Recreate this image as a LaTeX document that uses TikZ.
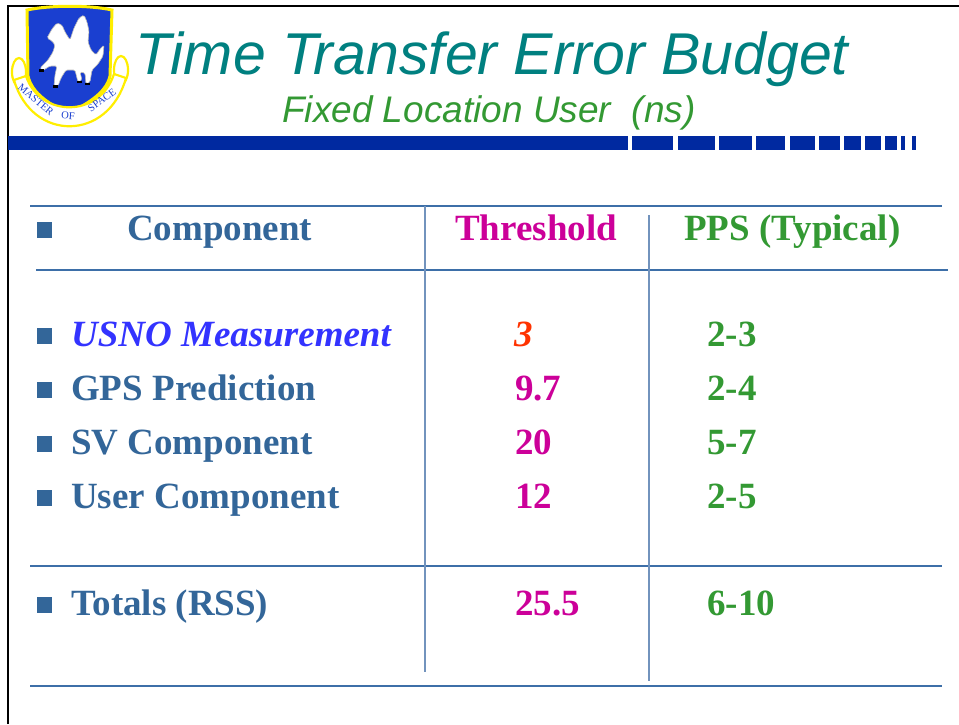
\documentclass[tikz,border=0pt]{standalone}
\usepackage{fontspec}
\setmainfont{Liberation Serif}
\newfontfamily\arialfont{Liberation Sans}
\definecolor{tealT}{HTML}{008080}
\definecolor{grnT}{HTML}{339933}
\definecolor{barblue}{HTML}{0029A0}
\definecolor{tblue}{HTML}{336699}
\definecolor{magT}{HTML}{CC0099}
\definecolor{usnoT}{HTML}{3333FF}
\definecolor{redT}{HTML}{FF3300}
\definecolor{hrule}{HTML}{3D6FA8}
\definecolor{vrule}{HTML}{7293BD}
\definecolor{shieldblue}{HTML}{1A3FD0}
\definecolor{goldY}{HTML}{FFEE00}
\tikzset{
  cell/.style={anchor=base west, inner sep=0pt, font=\fontsize{37}{40}\selectfont\bfseries},
  bul/.style={fill=tblue, draw=none},
  hline/.style={draw=hrule, line width=1.6pt},
  vline/.style={draw=vrule, line width=2pt},
  barseg/.style={fill=barblue, draw=none},
  scroll/.style={draw=goldY, line width=2.2pt, fill=white},
  motto/.style={inner sep=0pt, text=shieldblue, font=\fontsize{10.5}{11}\selectfont}
}
\begin{document}
\begin{tikzpicture}[x=1pt,y=-1pt]
\useasboundingbox (0,0) rectangle (959,724);
\fill[white] (0,0) rectangle (959,724);
% frame
\draw[black, line width=2.6pt] (8,724) -- (8,6) -- (959,6);
% logo: scroll ends
\draw[scroll] (19,72) ellipse [x radius=7, y radius=14];
\draw[scroll] (121,70) ellipse [x radius=7, y radius=14];
% shield
\draw[goldY, line width=3pt, fill=shieldblue]
  (27,10) .. controls (50,5) and (90,5) .. (112,10)
  -- (110,76) .. controls (106,94) and (86,104) .. (68,114)
  .. controls (50,104) and (32,94) .. (28,76) -- cycle;
% griffin
\draw[gray!55, line width=0.6pt, fill=white, rounded corners=1.5pt]
  (47,38) -- (52,29) -- (57,23) -- (62,25) -- (65,32) -- (70,40) -- (74,28)
  -- (79,18) -- (84,15) -- (87,22) -- (89,31) -- (88,42) -- (91,50)
  -- (96,55) -- (100,49) -- (104,45) -- (103,56) -- (98,64) -- (92,70)
  -- (90,82) -- (86,84) -- (85,73) -- (80,72) -- (82,80) -- (78,82)
  -- (75,70) -- (66,70) -- (61,78) -- (58,86) -- (54,86) -- (55,75)
  -- (57,66) -- (50,66) -- (42,71) -- (40,68) -- (48,60) -- (53,52)
  -- (55,45) -- (52,41) -- cycle;
\fill[black] (39,69) rectangle (44,72);
\fill[black] (53,85) rectangle (58,88);
\fill[black] (77,81) rectangle (82,83);
\fill[black] (85,83) rectangle (90,85);
% scroll band
\draw[scroll]
  (14,80) .. controls (32,142) and (108,142) .. (126,78)
  -- (114,74) .. controls (100,118) and (40,118) .. (26,76) -- cycle;
% motto
\node[motto, rotate=-40] (m1) at (36,100) {MASTER};
\node[motto, rotate=-4] (m2) at (68,116) {OF};
\node[motto, rotate=36] (m3) at (102,100) {SPACE};
% title
\node[anchor=base west, inner sep=0pt, text=tealT,
  font=\arialfont\itshape\fontsize{59}{62}\selectfont] (title) at (135,74)
  {Time Transfer Error Budget};
\node[anchor=base west, inner sep=0pt, text=grnT,
  font=\arialfont\itshape\fontsize{37}{40}\selectfont] (subtitle) at (282,122)
  {Fixed Location User\ \ (ns)};
% bar
\fill[barseg] (8,136) rectangle (628,150);
\foreach \a/\b in {632/673,678/715,719/752,756/785,790/815,819/840,844/861,865/881,885/897,901/905,912/916}
  \fill[barseg] (\a,136) rectangle (\b,150);
% table rules
\draw[hline] (30,206) -- (942,206);
\draw[hline] (36,270) -- (948,270);
\draw[hline] (30,566) -- (942,566);
\draw[hline] (30,686) -- (942,686);
\draw[vline] (425,206) -- (425,672);
\draw[vline] (649,215) -- (649,681);
% bullets
\foreach \b in {240,346,400,454,508,615}
  \fill[bul] (37,\b-18) rectangle (52,\b-2);
% header
\node[cell, text=tblue] (hcomp) at (127,240) {Component};
\node[cell, text=magT] (hthr) at (455,240) {Threshold};
\node[cell, text=grnT] (hpps) at (684,240) {PPS (Typical)};
% rows
\node[cell, text=usnoT, font=\fontsize{37}{40}\selectfont\bfseries\itshape] (r1) at (71,346) {USNO Measurement};
\node[cell, text=redT, font=\fontsize{37}{40}\selectfont\bfseries\itshape] (r1t) at (514,346) {3};
\node[cell, text=grnT] (r1p) at (707,346) {2-3};
\node[cell, text=tblue] (r2) at (71,400) {GPS Prediction};
\node[cell, text=magT] (r2t) at (515,400) {9.7};
\node[cell, text=grnT] (r2p) at (707,400) {2-4};
\node[cell, text=tblue] (r3) at (71,454) {SV Component};
\node[cell, text=magT] (r3t) at (515,454) {20};
\node[cell, text=grnT] (r3p) at (707,454) {5-7};
\node[cell, text=tblue] (r4) at (71,508) {User Component};
\node[cell, text=magT] (r4t) at (515,508) {12};
\node[cell, text=grnT] (r4p) at (707,508) {2-5};
\node[cell, text=tblue] (r5) at (71,615) {Totals (RSS)};
\node[cell, text=magT] (r5t) at (515,615) {25.5};
\node[cell, text=grnT] (r5p) at (707,615) {6-10};
\end{tikzpicture}
\end{document}
